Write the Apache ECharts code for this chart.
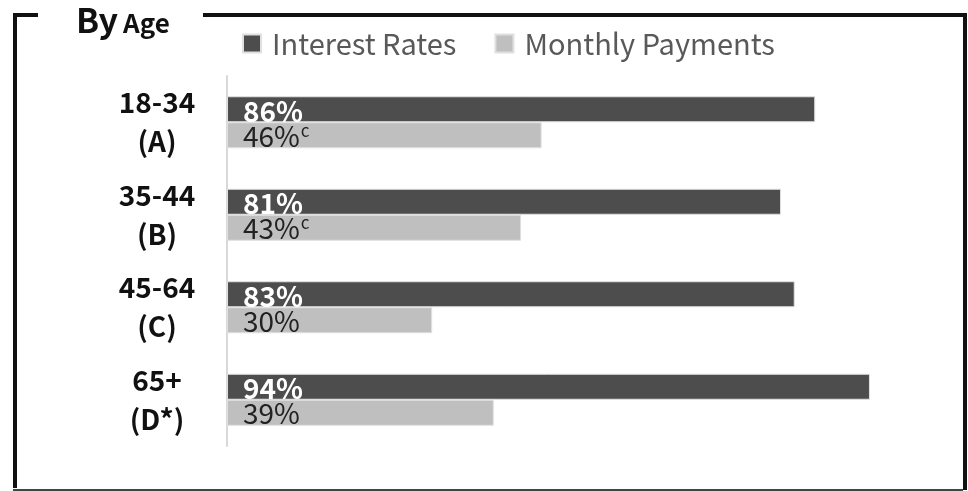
<!DOCTYPE html>
<html>
<head>
<meta charset="utf-8">
<script src="https://cdn.jsdelivr.net/npm/echarts@6/dist/echarts.min.js"></script>
<style>
  html, body { margin: 0; padding: 0; background: #fff; }
  #chart { width: 968px; height: 491px; }
</style>
</head>
<body>
<div id="chart"></div>
<script>
// 年龄段
const categories = ["18-34\n(A)", "35-44\n(B)", "45-64\n(C)", "65+\n(D*)"]
const interestRates = [86, 81, 83, 94]
const monthlyPayments = [46, 43, 30, 39]
// 上标
const monthlyNotes = ["c", "c", "", ""]

const FONT = "'Noto Sans CJK SC', 'Noto Sans', sans-serif"

const chart = echarts.init(document.getElementById("chart"))

const option = {
  backgroundColor: "#fff",
  animation: false,
  title: {
    text: "{a|By} {b|Age}",
    left: 71,
    top: -2,
    textStyle: {
      rich: {
        a: { fontSize: 34, fontWeight: "bold", color: "#111", fontFamily: FONT, verticalAlign: "bottom" },
        b: { fontSize: 26, fontWeight: "bold", color: "#111", fontFamily: FONT, verticalAlign: "bottom", padding: [0, 0, 1, 0] },
      },
    },
  },
  legend: {
    left: 237,
    top: 24,
    itemWidth: 18,
    itemHeight: 18,
    itemGap: 38,
    icon: "rect",
    textStyle: { fontSize: 29, color: "#595959", fontFamily: FONT, padding: [0, 0, 0, 6] },
    data: ["Interest Rates", "Monthly Payments"],
  },
  grid: {
    left: 227,
    right: 57,
    top: 76,
    bottom: 45,
  },
  xAxis: {
    type: "value",
    min: 0,
    max: 100,
    show: false,
  },
  yAxis: {
    type: "category",
    inverse: true,
    data: categories,
    axisLine: { show: true, lineStyle: { color: "#d9d9d9", width: 2 } },
    axisTick: { show: false },
    axisLabel: {
      align: "center",
      margin: 70,
      fontSize: 28,
      fontWeight: "bold",
      lineHeight: 39,
      color: "#111",
      fontFamily: FONT,
    },
  },
  series: [
    {
      name: "Interest Rates",
      type: "bar",
      data: interestRates,
      barWidth: 26,
      barGap: "0%",
      itemStyle: { color: "#4d4d4d", borderColor: "#e0e0e0", borderWidth: 1 },
      label: {
        show: true,
        position: "insideLeft",
        distance: 16,
        formatter: "{c}%",
        fontSize: 28,
        fontWeight: "bold",
        color: "#fff",
        fontFamily: FONT,
        offset: [0, 2],
      },
    },
    {
      name: "Monthly Payments",
      type: "bar",
      data: monthlyPayments,
      barWidth: 26,
      itemStyle: { color: "#bfbfbf", borderColor: "#e0e0e0", borderWidth: 1 },
      label: {
        show: true,
        position: "insideLeft",
        distance: 16,
        formatter: function (p) {
          const note = monthlyNotes[p.dataIndex]
          return p.value + "%" + (note ? "{sup|" + note + "}" : "")
        },
        fontSize: 28,
        color: "#222",
        fontFamily: FONT,
        offset: [0, 1],
        rich: {
          sup: { fontSize: 17, color: "#222", fontFamily: FONT, verticalAlign: "top", padding: [0, 0, 12, 1] },
        },
      },
    },
  ],
  graphic: [
    // 边框
    { type: "polyline", shape: { points: [[38, 15], [15, 15], [15, 488]] }, style: { stroke: "#111", lineWidth: 4, fill: null } },
    { type: "polyline", shape: { points: [[203, 15], [965, 15], [965, 490]] }, style: { stroke: "#111", lineWidth: 4, fill: null } },
    { type: "line", shape: { x1: 13, y1: 490, x2: 963, y2: 490 }, style: { stroke: "#444", lineWidth: 2 } },
  ],
}

chart.setOption(option)
</script>
</body>
</html>
